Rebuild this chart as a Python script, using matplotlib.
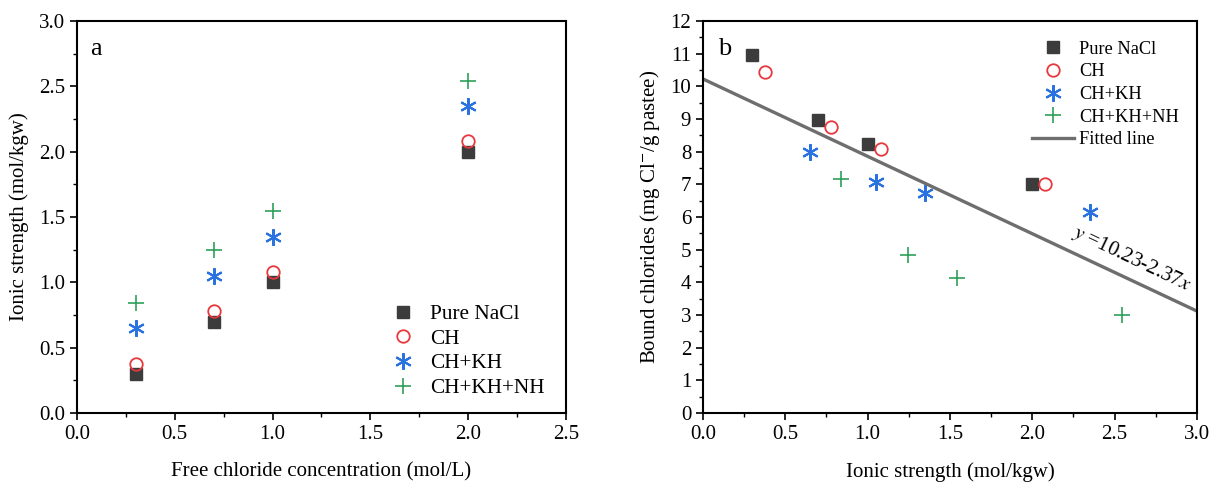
import matplotlib
matplotlib.use("Agg")
import matplotlib.pyplot as plt
import numpy as np
from matplotlib.ticker import MultipleLocator, FormatStrFormatter

plt.rcParams['font.family'] = ['Liberation Serif', 'DejaVu Serif']
plt.rcParams['mathtext.fontset'] = 'stix'

series = ["Pure NaCl", "CH", "CH+KH", "CH+KH+NH"]

# Panel a
free_cl = [0.3, 0.7, 1.0, 2.0]
ionic_nacl = [0.30, 0.70, 1.00, 2.00]
ionic_ch = [0.375, 0.78, 1.08, 2.08]
ionic_kh = [0.65, 1.05, 1.35, 2.35]
ionic_nh = [0.84, 1.245, 1.545, 2.545]

# Panel b
bound_nacl = [10.95, 8.97, 8.25, 7.00]
bound_ch = [10.45, 8.75, 8.08, 7.00]
bound_kh = [8.00, 7.07, 6.73, 6.17]
bound_nh = [7.17, 4.85, 4.12, 3.00]

fit_intercept = 10.23
fit_slope = -2.37

styles = [
    dict(marker='s', color='#3c3c3c', mfc='#3c3c3c', mec='#3c3c3c', ms=8, mew=1.0),
    dict(marker='o', color='#e8383d', mfc='none', mec='#e8383d', ms=9, mew=1.3),
    dict(marker=(6, 2, 0), color='#2a72e0', mfc='#2a72e0', mec='#2a72e0', ms=12, mew=1.5),
    dict(marker='+', color='#2ca05a', mfc='#2ca05a', mec='#2ca05a', ms=11, mew=1.2),
]

fig = plt.figure(figsize=(12.12, 4.91), dpi=100)
axa = fig.add_axes([0.0635, 0.1589, 0.4035, 0.798])
axb = fig.add_axes([0.580, 0.1589, 0.4076, 0.798])

def style_axes(ax):
    for s in ax.spines.values():
        s.set_linewidth(1.5)
        s.set_color('black')
    ax.tick_params(which='major', direction='out', length=5, width=1.2, labelsize=15)
    ax.tick_params(which='minor', direction='out', length=3, width=1.0)
    ax.tick_params(top=False, right=False)

# Panel a
for ys, lab, st in zip([ionic_nacl, ionic_ch, ionic_kh, ionic_nh], series, styles):
    axa.plot(free_cl, ys, linestyle='none', label=lab, **st)
axa.set_xlim(0, 2.5)
axa.set_ylim(0, 3.0)
axa.xaxis.set_major_locator(MultipleLocator(0.5))
axa.xaxis.set_minor_locator(MultipleLocator(0.25))
axa.yaxis.set_major_locator(MultipleLocator(0.5))
axa.yaxis.set_minor_locator(MultipleLocator(0.25))
axa.xaxis.set_major_formatter(FormatStrFormatter('%.1f'))
axa.yaxis.set_major_formatter(FormatStrFormatter('%.1f'))
style_axes(axa)
axa.set_xlabel("Free chloride concentration (mol/L)", fontsize=15, labelpad=13)
axa.set_ylabel("Ionic strength (mol/kgw)", fontsize=15, labelpad=7)
axa.text(0.026, 0.93, "a", transform=axa.transAxes, fontsize=19, va='center', ha='left')
axa.legend(loc='lower left', bbox_to_anchor=(1.612, 0.115), bbox_transform=axa.transData,
           frameon=False, fontsize=15.3, borderpad=0, borderaxespad=0,
           handlelength=1.0, handletextpad=0.78, labelspacing=0.22)

# Panel b
for xs, ys, lab, st in zip([ionic_nacl, ionic_ch, ionic_kh, ionic_nh],
                           [bound_nacl, bound_ch, bound_kh, bound_nh], series, styles):
    axb.plot(xs, ys, linestyle='none', label=lab, **st)
xf = np.array([0.0, 3.0])
axb.plot(xf, fit_intercept + fit_slope * xf, color='#6e6e6e', lw=2.4, label='Fitted line')
axb.set_xlim(0, 3.0)
axb.set_ylim(0, 12)
axb.xaxis.set_major_locator(MultipleLocator(0.5))
axb.xaxis.set_minor_locator(MultipleLocator(0.25))
axb.yaxis.set_major_locator(MultipleLocator(1))
axb.yaxis.set_minor_locator(MultipleLocator(0.5))
axb.xaxis.set_major_formatter(FormatStrFormatter('%.1f'))
style_axes(axb)
axb.set_xlabel("Ionic strength (mol/kgw)", fontsize=15, labelpad=13)
axb.set_ylabel("Bound chlorides (mg Cl$^{-}$/g pastee)", fontsize=15, labelpad=6)
axb.text(0.03, 0.93, "b", transform=axb.transAxes, fontsize=19, va='center', ha='left')
axb.text(2.22, 5.28, r"$y$ =10.23-2.37$x$", fontsize=15, rotation=-25.5,
         rotation_mode='anchor', ha='left', va='bottom')
axb.legend(loc='upper left', bbox_to_anchor=(1.999, 11.40), bbox_transform=axb.transData,
           frameon=False, fontsize=13.2, borderpad=0, borderaxespad=0,
           handlelength=2.3, handletextpad=0.25, labelspacing=0.31)

fig.savefig("out.png", dpi=100)
